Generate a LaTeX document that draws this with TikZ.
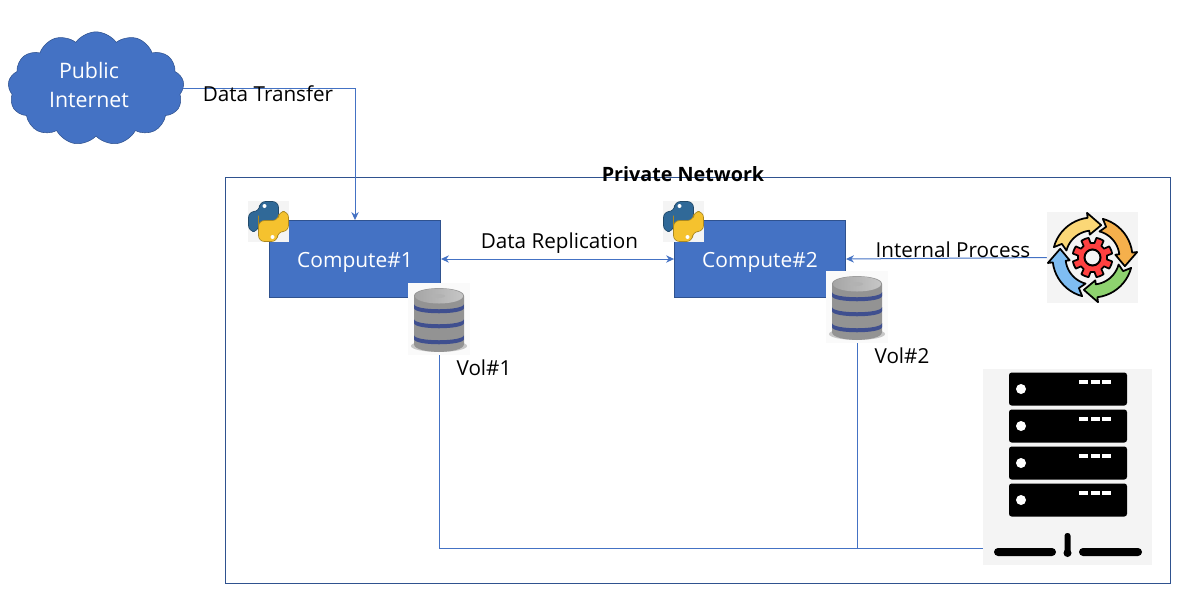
\documentclass[tikz,border=0pt]{standalone}
\usepackage{fontspec}
\setmainfont{Open Sans}
\usetikzlibrary{positioning, calc, shapes, shapes.symbols, arrows.meta}
\definecolor{boxblue}{HTML}{4472C4}
\definecolor{edgeblue}{HTML}{2F528F}
\definecolor{iconbg}{HTML}{F4F4F4}
\definecolor{pyblue}{HTML}{306998}
\definecolor{pyyellow}{HTML}{F5C22E}
\definecolor{bandblue}{HTML}{8FA6EC}
\definecolor{bandedge}{HTML}{3F4F8F}
\tikzset{
    computebox/.style={rectangle, draw=edgeblue, fill=boxblue, text=white, minimum width=128.5pt, minimum height=58pt, text height=14.5pt, text depth=2pt, font=\fontsize{15.7}{18}\selectfont},
    iconbox/.style={rectangle, fill=iconbg, inner sep=0pt},
    label/.style={font=\fontsize{15.5}{18}\selectfont, inner sep=0pt},
    link/.style={draw=boxblue, line width=0.75pt},
    linktip/.style={-{Stealth[length=6pt,width=5.5pt]}},
    pics/snake/.style={code={
        \foreach \r/\col/\lin in {0/pyblue/pyblue!70!black, 180/pyyellow/pyyellow!70!black} {
            \begin{scope}[rotate=\r]
                \draw[fill=\col, draw=\lin, line width=0.5pt, rounded corners=4.5]
                    (10,0) -- (10,-20) -- (-9,-20) -- (-9,-10) -- (-20,-10) -- (-20,10)
                    -- (-10,10) -- (-10,1) -- (10,1) -- cycle;
                \fill[white] (-4,-15.5) circle (2);
            \end{scope}
        }
    }},
    pics/disks/.style={code={
        \fill[black, opacity=0.2] (0,27) ellipse (28 and 6);
        \shade[left color=gray!85, middle color=white, right color=gray!85]
            (-25,-23) -- (-25,25) .. controls (-25,35.5) and (25,35.5) .. (25,25) -- (25,-23)
            .. controls (25,-33.5) and (-25,-33.5) .. (-25,-23) -- cycle;
        \foreach \y in {-12,3,19} {
            \shade[left color=bandedge, middle color=bandblue, right color=bandedge]
                (-25,\y-3) .. controls (-25,\y+4) and (25,\y+4) .. (25,\y-3) -- (25,\y+1)
                .. controls (25,\y+8) and (-25,\y+8) .. (-25,\y+1) -- cycle;
        }
        \shade[left color=gray!70, right color=gray!45] (0,-23) ellipse (24 and 7.5);
        \fill[gray!60] (-1,-23) ellipse (7 and 2);
    }},
}

\begin{document}
\begin{tikzpicture}[x=0.75pt, y=-0.75pt]
    \useasboundingbox (0,0) rectangle (1187,601);

    % network frame and title
    \draw[edgeblue, line width=0.75pt] (225,177) rectangle (1170,583);
    \node[font=\fontsize{14.8}{18}\selectfont\bfseries, inner sep=0pt] (privatenet) at (683,174) {Private Network};

    \node[cloud, cloud puffs=13, cloud puff arc=110, aspect=1.55, draw=edgeblue, fill=boxblue,
        inner sep=0pt, minimum width=132pt, minimum height=85pt] (internet) at (96,88.5) {};
    \node[text=white, align=center, inner sep=0pt, font=\fontsize{16}{21.75}\selectfont] (internettext) at (89,85) {Public\\Internet};

    \node[computebox] (compute1) at (355,259) {Compute\#1};
    \node[computebox] (compute2) at (760,259) {Compute\#2};

    % python marks
    \node[iconbox, minimum size=30.75pt] (py1) at (268.5,221.5) {};
    \node[iconbox, minimum size=30.75pt] (py2) at (683.5,221.5) {};
    \pic at (py1) {snake};
    \pic at (py2) {snake};

    % volumes
    \node[iconbox, fill=iconbg!50, minimum width=46.5pt, minimum height=54pt] (vol1) at (439,319) {};
    \node[iconbox, fill=iconbg!50, minimum width=46.5pt, minimum height=54pt] (vol2) at (857,307) {};
    \pic at (vol1) {disks};
    \pic at (vol2) {disks};
    \node[label] (vol1text) at (484,368) {Vol\#1};
    \node[label] (vol2text) at (902,356) {Vol\#2};

    % process icon
    \node[iconbox, minimum size=68.25pt] (process) at (1092.5,257.5) {};
    \begin{scope}[shift={(process.center)}]
        \foreach \a/\col in {-165/FBD776, -75/F5B04C, 15/8ED26F, 105/7FBDF2} {
            \definecolor{arc}{HTML}{\col}
            \draw[fill=arc, line width=1.3pt, line join=round]
                plot[domain=\a:\a+68, samples=12] (\x:40) -- (\a+68:45) -- (\a+90:33.5) -- (\a+68:23)
                -- plot[domain=\a+68:\a, samples=12] (\x:27) -- (\a+9:33.5) -- cycle;
        }
        \draw[fill=red!75!white, line width=1.3pt, line join=round]
            plot[domain=0:360, samples=97] (\x:{abs(mod(\x,45)-22.5)<12 ? 20 : 14.5}) -- cycle;
        \draw[fill=iconbg, line width=1.5pt] (0,0) circle (8);
    \end{scope}

    % storage rack
    \node[iconbox, minimum width=126.75pt, minimum height=147pt] (store) at (1067.5,467) {};
    \coordinate (storefoot) at (983,548);
    \foreach \y in {389,426,463,500} {
        \fill[black, rounded corners=2] (1009,\y-16.5) rectangle (1127,\y+16.5);
        \fill[white] (1021,\y) circle (5);
        \foreach \x in {1079,1091,1102} {
            \fill[white] (\x,\y-9.5) rectangle (\x+9,\y-5.5);
        }
    }
    \fill[black, rounded corners=3] (994,548) rectangle (1056,556);
    \fill[black, rounded corners=3] (1079,548) rectangle (1142,556);
    \fill[black, rounded corners=2] (1064.5,533) rectangle (1070.5,553);
    \fill[black] (1067.5,553) circle (4);

    % connectors
    \draw[link, linktip] (internet.east) -| (compute1.north);
    \draw[link, {Stealth[length=6pt,width=5.5pt]}-{Stealth[length=6pt,width=5.5pt]}] (compute1.east) -- (compute2.west);
    \draw[link, linktip] (process.west) -- (compute2.east);
    \draw[link] (vol1.south) -- (vol1.south |- storefoot) -- (storefoot);
    \draw[link] (vol2.south) -- (vol2.south |- storefoot);

    \node[label] (transfer) at (268,94) {Data Transfer};
    \node[label] (replication) at (559.5,243) {Data Replication};
    \node[label] (internal) at (953,250) {Internal Process};
\end{tikzpicture}
\end{document}
